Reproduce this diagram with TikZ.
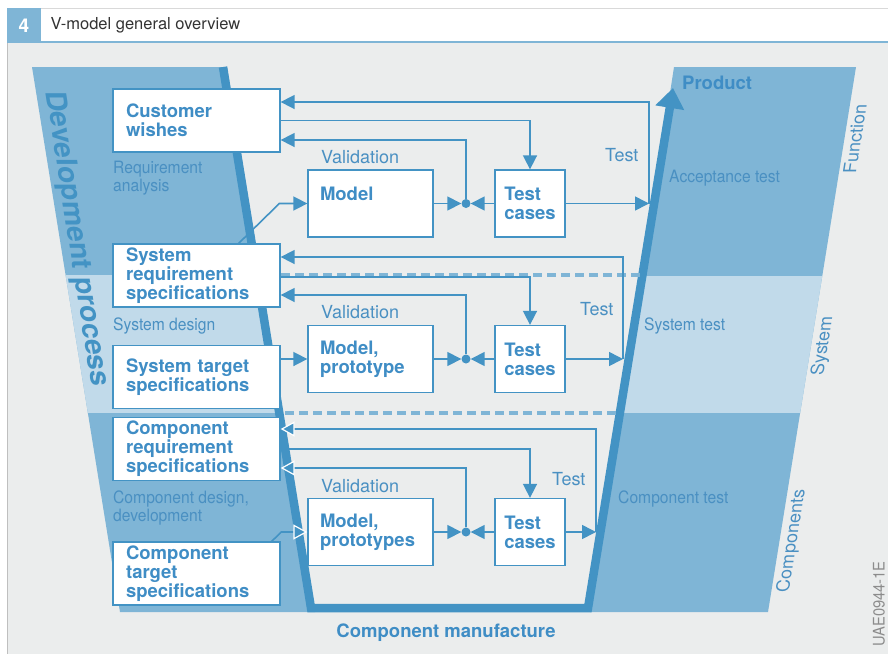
\documentclass[tikz,border=0pt]{standalone}
\usepackage{fontspec}
\setmainfont{TeX Gyre Heros}
\newfontfamily\narrowfont{TeX Gyre Heros}[FakeStretch=0.92]
\usetikzlibrary{arrows.meta}

\definecolor{vblue}{HTML}{4393C4}
\definecolor{bandblue}{HTML}{7FB5D6}
\definecolor{lightband}{HTML}{C1DAEA}
\definecolor{bggray}{HTML}{EBEDED}
\definecolor{tblue}{HTML}{3F8DC5}
\definecolor{lblue}{HTML}{4A90C2}

\tikzset{
    box/.style={draw=vblue, line width=1.3pt, fill=white, align=left, inner ysep=0pt,
        text=tblue, font=\fontsize{18.5}{19}\selectfont\bfseries},
    spec/.style={box, inner xsep=13pt, text width=141pt, minimum height=63pt},
    model/.style={box, inner xsep=12pt, text width=101pt, minimum height=67pt},
    tcase/.style={box, inner xsep=0pt, minimum width=70pt, minimum height=67pt},
    dot/.style={circle, fill=vblue, inner sep=0pt, minimum size=9pt},
    conn/.style={draw=vblue, line width=1.6pt},
    arr/.style={-{Triangle[length=14pt,width=14pt]}},
    warr/.style={-{Triangle[length=14pt,width=15pt,color=white,fill=vblue,line width=1.2pt]}},
    vline/.style={draw=vblue, line width=8.5pt, line join=miter, -{Triangle[length=20pt,width=28pt]}},
    sep/.style={draw=bandblue, line width=4pt, dash pattern=on 9pt off 5pt},
    lab/.style={text=lblue, font=\narrowfont\fontsize{17}{18}\selectfont, align=left, inner sep=0pt},
    mid/.style={text=lblue, font=\fontsize{18}{18}\selectfont, inner sep=0pt},
    side/.style={text=lblue, font=\fontsize{18}{18}\selectfont, inner sep=0pt, cm={0.16,1,-1,0,(0,0)}},
}

\begin{document}
\begin{tikzpicture}[x=1pt,y=-1pt]
    \useasboundingbox (0,0) rectangle (888,654);
    % background and header
    \fill[bggray] (7,43) rectangle (888,654);
    \draw[black!25, line width=1pt] (7.5,43) -- (7.5,654);
    \fill[bandblue] (7,8) rectangle (41,42);
    \fill[white] (41,8) rectangle (888,42);
    \draw[black!15, line width=0.6pt] (41,8.3) -- (888,8.3);
    \draw[bandblue, line width=2pt] (7,42) -- (888,42);
    \node[font=\fontsize{19}{19}\selectfont\bfseries, text=white] (num) at (24,26) {4};
    \node[anchor=west, font=\fontsize{16.5}{16.5}\selectfont, text=black!80] (title) at (47,25) {V-model general overview};

    % left band
    \fill[bandblue] (32,67) -- (227,67) -- (315,612) -- (120,612) -- cycle;
    \begin{scope}
        \clip (32,67) -- (227,67) -- (315,612) -- (120,612) -- cycle;
        \fill[lightband] (0,275) rectangle (400,413);
    \end{scope}
    % right band
    \fill[bandblue] (674,67) -- (856,67) -- (768,612) -- (590,612) -- cycle;
    \begin{scope}
        \clip (674,67) -- (856,67) -- (768,612) -- (590,612) -- cycle;
        \fill[lightband] (550,276) rectangle (900,413);
    \end{scope}

    % the V
    \draw[vline] (223,67) -- (311,608) -- (588,608) -- (673,88);

    % band labels
    \node[text=vblue, font=\fontsize{28.5}{28.5}\selectfont\bfseries, inner sep=0pt,
        cm={0.155,-1,1,0,(0,0)}] (dev) at (76,239) {Development process};
    \node[lab, anchor=west] (ra) at (113,178) {Requirement\\analysis};
    \node[lab, anchor=west] (sd) at (113,326) {System design};
    \node[lab, anchor=west] (cd) at (113,508) {Component design,\\development};
    \node[anchor=west, inner sep=0pt, text=tblue, font=\fontsize{18.5}{19}\selectfont\bfseries] (prod) at (682,83) {Product};
    \node[lab, anchor=west] (at) at (669,178) {Acceptance test};
    \node[lab, anchor=west] (st) at (644,326) {System test};
    \node[lab, anchor=west] (ct) at (618,499) {Component test};
    \node[side] (fn) at (855,139) {Function};
    \node[side] (sy) at (823,346) {System};
    \node[side] (cp) at (792,541) {Components};
    \node[rotate=90, inner sep=0pt, text=black!45, font=\narrowfont\fontsize{16}{16}\selectfont] (code) at (879,604) {UAE0944-1E};
    \node[text=tblue, font=\fontsize{18.5}{19}\selectfont\bfseries] (manu) at (446,633) {Component manufacture};

    % level separators
    \draw[sep] (281,275) -- (640,275);
    \draw[sep] (285,413) -- (616,413);

    % boxes
    \node[spec] (cw) at (196.5,120.5) {Customer\\wishes};
    \node[spec] (srs) at (196.5,275.5) {System\\requirement\\specifications};
    \node[spec] (sts) at (196.5,377) {System target\\specifications};
    \node[spec] (crs) at (196.5,449) {Component\\requirement\\specifications};
    \node[spec] (cts) at (196.5,573.5) {Component\\target\\specifications};
    \node[model] (m1) at (370.5,203.5) {Model\\~};
    \node[model] (m2) at (370.5,359) {Model,\\prototype};
    \node[model] (m3) at (370.5,532) {Model,\\prototypes};
    \node[tcase] (t1) at (530,203.5) {Test\\cases};
    \node[tcase] (t2) at (530,359) {Test\\cases};
    \node[tcase] (t3) at (530,532) {Test\\cases};
    \node[dot] (d1) at (466,203.5) {};
    \node[dot] (d2) at (466,359) {};
    \node[dot] (d3) at (466,532) {};

    \node[mid, anchor=west] (v1) at (321,157) {Validation};
    \node[mid, anchor=west] (v2) at (321,312) {Validation};
    \node[mid, anchor=west] (v3) at (321,486) {Validation};
    \node[mid, anchor=west] (ts1) at (605,155) {Test};
    \node[mid, anchor=west] (ts2) at (580,309) {Test};
    \node[mid, anchor=west] (ts3) at (552,479) {Test};

    % top level
    \coordinate (r1) at (649,0);
    \draw[conn, arr] (t1.east) -- (t1.east -| r1);
    \draw[conn, arr] (t1.east -| r1) -- ([yshift=18.5pt]cw.east -| r1) -- ([yshift=18.5pt]cw.east);
    \draw[conn, arr] (cw.east) -| (t1.north);
    \draw[conn, arr] (d1) |- ([yshift=-19.5pt]cw.east);
    \draw[conn, arr] (m1.east) -- (d1.west);
    \draw[conn, arr] (t1.west) -- (d1.east);
    \draw[conn, arr] ([xshift=-42pt]srs.north east) -- ([xshift=-28pt]m1.west) -- (m1.west);

    % system level
    \coordinate (r2) at (623,0);
    \draw[conn, arr] (t2.east) -- (t2.east -| r2);
    \draw[conn, arr] (t2.east -| r2) -- ([yshift=18.5pt]srs.east -| r2) -- ([yshift=18.5pt]srs.east);
    \draw[conn, arr] ([yshift=-1.5pt]srs.east) -| (t2.north);
    \draw[conn, arr] (d2) |- ([yshift=-19.5pt]srs.east);
    \draw[conn, arr] (sts.east |- m2.west) -- (m2.west);
    \draw[conn, arr] (m2.east) -- (d2.west);
    \draw[conn, arr] (t2.west) -- (d2.east);

    % component level
    \coordinate (r3) at (596,0);
    \draw[conn, arr] (t3.east) -- (t3.east -| r3);
    \draw[conn, warr] (t3.east -| r3) -- ([yshift=20pt]crs.east -| r3) -- ([yshift=20pt]crs.east);
    \draw[conn, arr] (crs.east) -| (t3.north);
    \draw[conn, warr] (d3) |- ([yshift=-19pt]crs.east);
    \draw[conn, warr] ([xshift=-9pt]cts.north east) -- ([xshift=-26pt]m3.west) -- (m3.west);
    \draw[conn, arr] (m3.east) -- (d3.west);
    \draw[conn, arr] (t3.west) -- (d3.east);
\end{tikzpicture}
\end{document}
